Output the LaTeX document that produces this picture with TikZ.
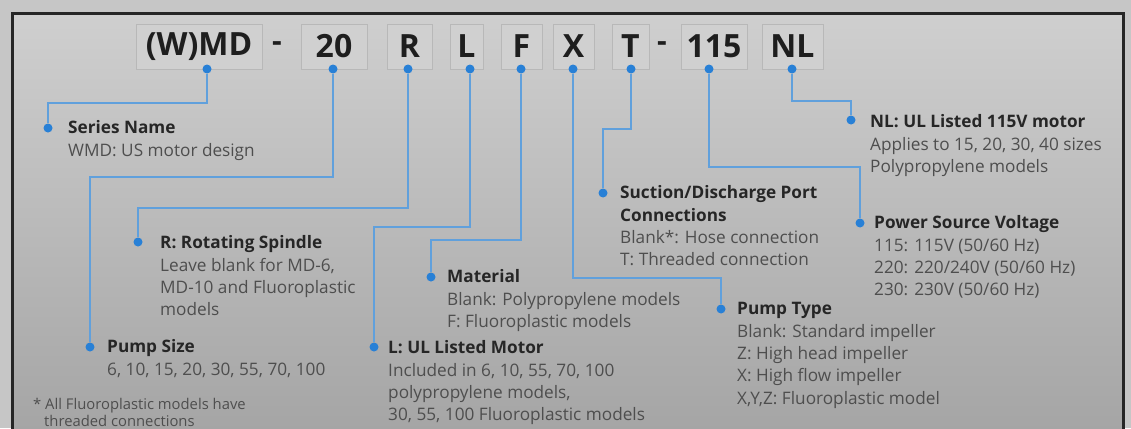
\documentclass[tikz,border=0pt]{standalone}
\usepackage{fontspec}
\setmainfont{Open Sans}
\definecolor{outerbg}{RGB}{198,198,198}
\definecolor{innertop}{RGB}{207,207,207}
\definecolor{innerbot}{RGB}{164,164,164}
\definecolor{boxfill}{RGB}{208,208,208}
\definecolor{boxline}{RGB}{184,184,184}
\definecolor{headtext}{RGB}{30,30,30}
\definecolor{titletext}{RGB}{38,38,38}
\definecolor{bodytext}{RGB}{78,78,78}
\definecolor{lineblue}{RGB}{96,160,220}
\definecolor{dotblue}{RGB}{40,128,214}
\begin{document}
\begin{tikzpicture}[x=1pt,y=-1pt,
  hbox/.style={draw=boxline, fill=boxfill, line width=0.8pt, inner sep=0pt,
    minimum height=45pt, font=\fontsize{32}{32}\selectfont\bfseries, text=headtext},
  dashtext/.style={inner sep=0pt, font=\fontsize{30}{30}\selectfont\bfseries, text=headtext},
  dot/.style={circle, fill=dotblue, inner sep=0pt, minimum size=9pt},
  conn/.style={draw=lineblue, line width=2pt},
  desc/.style={anchor=north west, align=left, inner sep=0pt,
    font=\fontsize{17.2}{22.3}\selectfont, text=bodytext},
  note/.style={anchor=north west, align=left, inner sep=0pt,
    font=\fontsize{14.8}{17}\selectfont, text=bodytext},
]
\useasboundingbox (0,0) rectangle (1131,428);
\clip (0,0) rectangle (1131,428);
\fill[outerbg] (0,0) rectangle (1131,428);
\shade[top color=innertop, bottom color=innerbot] (12,14) rectangle (1123,440);
\draw[line width=3pt, black!85] (12,440) -- (12,14) -- (1123,14) -- (1123,440);

% header boxes
\node[hbox, minimum width=126pt] (h1) at (199,46.5) {(W)MD};
\node[dashtext] (s1) at (277,46.5) {-};
\node[hbox, minimum width=66pt] (h2) at (334,46.5) {20};
\node[hbox, minimum width=45pt] (h3) at (409.5,46.5) {R};
\node[hbox, minimum width=33pt] (h4) at (466.5,46.5) {L};
\node[hbox, minimum width=41pt] (h5) at (521.5,46.5) {F};
\node[hbox, minimum width=41pt] (h6) at (573.5,46.5) {X};
\node[hbox, minimum width=37pt] (h7) at (630.5,46.5) {T};
\node[dashtext] (s2) at (662,46.5) {-};
\node[hbox, minimum width=66pt] (h8) at (714,46.5) {115};
\node[hbox, minimum width=61pt] (h9) at (792.5,46.5) {NL};

% top dots
\node[dot] (t1) at (207,69) {};
\node[dot] (t2) at (333,69) {};
\node[dot] (t3) at (408,69) {};
\node[dot] (t4) at (470,69) {};
\node[dot] (t5) at (521,69) {};
\node[dot] (t6) at (573,69) {};
\node[dot] (t7) at (631,69) {};
\node[dot] (t8) at (709,69) {};
\node[dot] (t9) at (792,69) {};

% bottom dots
\node[dot] (d1) at (48,128) {};
\node[dot] (d2) at (90,347) {};
\node[dot] (d3) at (138,242) {};
\node[dot] (d4) at (374,347) {};
\node[dot] (d5) at (431,277) {};
\node[dot] (d6) at (721,309) {};
\node[dot] (d7) at (603,193) {};
\node[dot] (d8) at (860,223) {};
\node[dot] (d9) at (851,120) {};

% connectors
\draw[conn] (t1) -- (t1 |- 0,103) -| (d1);
\draw[conn] (t2) -- (t2 |- 0,177) -| (d2);
\draw[conn] (t3) -- (t3 |- 0,208) -| (d3);
\draw[conn] (t4) -- (t4 |- 0,227) -| (d4);
\draw[conn] (t5) -- (t5 |- 0,240) -| (d5);
\draw[conn] (t6) -- (t6 |- 0,278) -| (d6);
\draw[conn] (t7) -- (t7 |- 0,129) -| (d7);
\draw[conn] (t8) -- (t8 |- 0,167) -| (d8);
\draw[conn] (t9) -- (t9 |- 0,101) -| (d9);

% descriptions
\node[desc] (n1) at (68,120.5) {\textcolor{titletext}{\bfseries Series Name}\\WMD: US motor design};
\node[desc] (n2) at (107,339.5) {\textcolor{titletext}{\bfseries Pump Size}\\6, 10, 15, 20, 30, 55, 70, 100};
\node[desc] (n3) at (160,235.5) {\textcolor{titletext}{\bfseries R: Rotating Spindle}\\Leave blank for MD-6,\\MD-10 and Fluoroplastic\\models};
\node[desc] (n4) at (388,340.5) {\textcolor{titletext}{\bfseries L: UL Listed Motor}\\Included in 6, 10, 55, 70, 100\\polypropylene models,\\30, 55, 100 Fluoroplastic models};
\node[desc] (n5) at (447,269.5) {\textcolor{titletext}{\bfseries Material}\\Blank: Polypropylene models\\F: Fluoroplastic models};
\node[desc] (n6) at (737,302.5) {\textcolor{titletext}{\bfseries Pump Type}\\Blank: Standard impeller\\Z: High head impeller\\X: High flow impeller\\X,Y,Z: Fluoroplastic model};
\node[desc] (n7) at (620,185.5) {\textcolor{titletext}{\bfseries Suction/Discharge Port}\\\textcolor{titletext}{\bfseries Connections}\\Blank*: Hose connection\\T: Threaded connection};
\node[desc] (n8) at (874,215.5) {\textcolor{titletext}{\bfseries Power Source Voltage}\\115: 115V (50/60 Hz)\\220: 220/240V (50/60 Hz)\\230: 230V (50/60 Hz)};
\node[desc] (n9) at (870,114.5) {\textcolor{titletext}{\bfseries NL: UL Listed 115V motor}\\Applies to 15, 20, 30, 40 sizes\\Polypropylene models};
\node[note] (n10) at (33,398) {* All Fluoroplastic models have\\\hspace*{11pt}threaded connections};
\end{tikzpicture}
\end{document}
